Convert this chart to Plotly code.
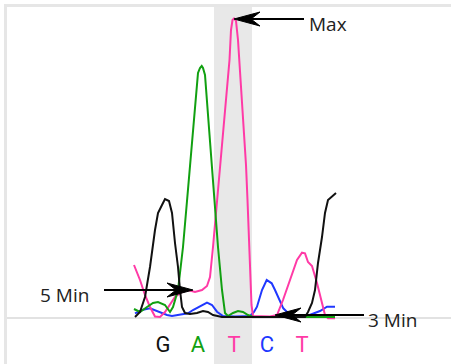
import math
import plotly.graph_objects as go

# ---- data: chromatogram traces (scan position, signal intensity) ----
black_x = [135, 140, 145, 150, 155, 158, 162, 165, 169, 172, 175, 178, 180, 182, 185, 190, 197, 203, 208, 213, 222, 228, 240, 260, 280, 300, 305, 308, 312, 315, 318, 322, 325, 328, 332, 336]
black_y = [1, 6, 21, 51, 88, 105, 113, 119, 117, 105, 75, 51, 28, 11, 5, 4, 5, 7, 6, 3, 1, 1, 1, 1, 1, 1, 1, 6, 15, 28, 55, 81, 105, 118, 122, 125]

green_x = [134, 140, 147, 153, 158, 165, 170, 173, 178, 183, 187, 191, 195, 198, 200, 201.7, 203, 205, 209, 213, 218, 222, 225, 228, 233, 238, 243, 248, 253, 260, 280, 300, 310, 335]
green_y = [9, 6, 11, 15, 16, 13, 6, 11, 28, 71, 117, 162, 207, 245, 250, 252, 250, 243, 190, 135, 71, 28, 5, 2, 5, 7, 6, 3, 1, 1, 1, 1, 1, 1]

pink_x = [134, 140, 145, 150, 155, 160, 165, 170, 175, 182, 188, 195, 202, 207, 210, 213, 216.5, 219.5, 222, 224.5, 227, 229.5, 231, 232.5, 234, 236, 238, 240, 242, 244, 246, 247.5, 249.5, 251.5, 253, 260, 270, 277, 283, 290, 297, 302, 305, 308, 312, 317, 322, 325, 328, 335]
pink_y = [53, 38, 23, 11, 1.5, 1, 6, 13, 21, 26, 28, 26, 28, 32, 41, 71, 111, 138, 168, 198, 228, 258, 288, 298, 299.5, 297, 278, 248, 218, 188, 153, 118, 68, 13, 2, 1.5, 1.5, 3, 18, 38, 58, 65.3, 64.7, 56, 52, 35, 15, 3, -0.3, -0.3]

blue_x = [135, 142, 150, 158, 167, 172, 180, 188, 193, 200, 207, 212, 217, 223, 235, 250, 254, 257, 260, 262, 266.7, 271.7, 275, 278, 283.3, 289, 297, 305, 313, 320, 327, 335]
blue_y = [4.7, 8, 9.7, 6.3, 3, 2, 3, 4.7, 8, 12, 15.3, 13, 6.3, 2, 1.5, 2, 6, 11.3, 21, 28, 38, 34.7, 28, 21.3, 9.7, 4, 1.3, 1.3, 4.7, 7, 11.3, 11.3]

# base calls
bases = ["G", "A", "T", "C", "T"]
base_pos = [163, 198, 234, 267, 302]
base_colors = {"G": "#111111", "A": "#11a011", "T": "#ff3aa6", "C": "#2038ff"}

# highlighted base window
band_x0, band_x1 = 214, 252

# annotations: (label, arrow tip, arrow tail, label position, anchor)
notes = [
    ("Max", (234, 299), (304, 299), (307, 294), "left"),
    ("5 Min", (193, 28), (104, 28), (38, 23), "left"),
    ("3 Min", (275, 3), (364, 3), (366, -2), "left"),
]

fig = go.Figure()
fig.add_vrect(x0=band_x0, x1=band_x1, fillcolor="#e8e8e8", line_width=0, layer="below")

for xs, ys, col in [
    (blue_x, blue_y, "#2038ff"),
    (pink_x, pink_y, "#ff3aa6"),
    (green_x, green_y, "#11a011"),
    (black_x, black_y, "#111111"),
]:
    fig.add_trace(go.Scatter(x=xs, y=ys, mode="lines", line=dict(color=col, width=2),
                             hoverinfo="skip", showlegend=False))

fig.add_trace(go.Scatter(
    x=base_pos, y=[-28] * len(bases), mode="text", text=bases,
    textfont=dict(family="Liberation Sans Narrow, Roboto, sans-serif", size=22,
                  color=[base_colors[b] for b in bases]),
    hoverinfo="skip", showlegend=False))


def arrow(tip, tail, L=26, W=7, notch=17):
    dx, dy = tail[0] - tip[0], tail[1] - tip[1]
    n = math.hypot(dx, dy)
    ux, uy = dx / n, dy / n
    px, py = -uy, ux
    b1 = (tip[0] + L * ux + W * px, tip[1] + L * uy + W * py)
    b2 = (tip[0] + L * ux - W * px, tip[1] + L * uy - W * py)
    nt = (tip[0] + notch * ux, tip[1] + notch * uy)
    fig.add_shape(type="line", x0=tail[0], y0=tail[1], x1=nt[0], y1=nt[1],
                  line=dict(color="#000000", width=2))
    path = "M{},{} L{},{} L{},{} L{},{} Z".format(tip[0], tip[1], b1[0], b1[1], nt[0], nt[1], b2[0], b2[1])
    fig.add_shape(type="path", path=path, fillcolor="#000000", line=dict(color="#000000", width=1))


for label, tip, tail, pos, anchor in notes:
    arrow(tip, tail)
    fig.add_annotation(x=pos[0], y=pos[1], text=label, showarrow=False, xanchor=anchor,
                       yanchor="middle", font=dict(family="Open Sans, sans-serif", size=19, color="#222222"))

fig.update_layout(
    width=451, height=364,
    margin=dict(l=7, r=0, t=7, b=0),
    paper_bgcolor="white", plot_bgcolor="white",
    xaxis=dict(range=[7, 451], side="top", showline=True, linecolor="#e6e6e6", linewidth=3,
               showgrid=False, zeroline=False, showticklabels=False, ticks="", fixedrange=True),
    yaxis=dict(range=[-46, 311], showline=True, linecolor="#e6e6e6", linewidth=3,
               showgrid=False, zeroline=True, zerolinecolor="#e2e2e2", zerolinewidth=2,
               showticklabels=False, ticks="", fixedrange=True),
)

fig.write_html("out.html", config={"displayModeBar": False},
               post_script="document.body.style.margin='0';document.body.style.overflow='hidden';")
